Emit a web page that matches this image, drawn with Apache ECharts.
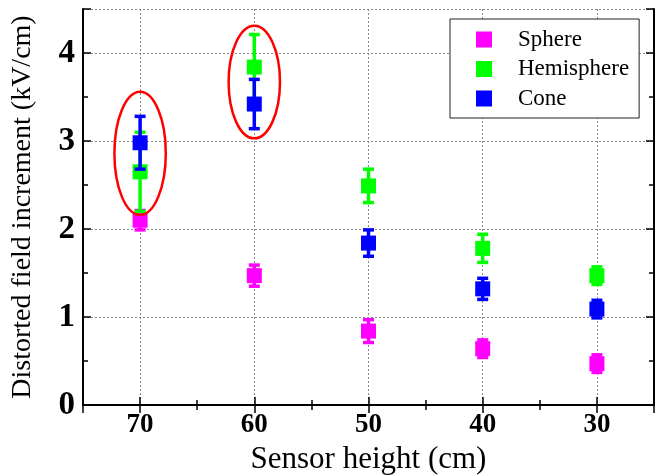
<!DOCTYPE html>
<html>
<head>
<meta charset="utf-8">
<script src="https://cdn.jsdelivr.net/npm/echarts@6/dist/echarts.min.js"></script>
<style>
  html, body { margin: 0; padding: 0; background: #fff; }
  #chart { width: 666px; height: 475px; }
</style>
</head>
<body>
<div id="chart"></div>
<script>
// ---- data ----
const heights = [70, 60, 50, 40, 30];
const sphereMean = [2.10, 1.47, 0.84, 0.64, 0.47];
const sphereErr  = [0.11, 0.12, 0.13, 0.10, 0.10];
const hemiMean   = [2.65, 3.84, 2.49, 1.78, 1.47];
const hemiErr    = [0.45, 0.37, 0.19, 0.16, 0.10];
const coneMean   = [2.98, 3.42, 1.84, 1.32, 1.09];
const coneErr    = [0.30, 0.28, 0.15, 0.12, 0.10];
const ellipseX    = [70, 60];
const ellipseLow  = [2.16, 3.03];
const ellipseHigh = [3.56, 4.31];
const seriesNames = ['Sphere', 'Hemisphere', 'Cone'];
const colors = ['#ff00ff', '#00ff00', '#0000ff'];

const FONT = '"Liberation Serif", "Times New Roman", serif';

function pts(mean) { return heights.map((h, i) => [h, mean[i]]); }
function errs(mean, err) { return heights.map((h, i) => [h, mean[i] - err[i], mean[i] + err[i]]); }

function errRender(color) {
  return function (params, api) {
    const x = api.value(0), lo = api.value(1), hi = api.value(2);
    const a = api.coord([x, lo]), b = api.coord([x, hi]);
    const hw = 5.5;
    const st = { stroke: color, lineWidth: 3.5 };
    return {
      type: 'group',
      children: [
        { type: 'line', shape: { x1: a[0], y1: a[1], x2: b[0], y2: b[1] }, style: st },
        { type: 'line', shape: { x1: a[0] - hw, y1: a[1], x2: a[0] + hw, y2: a[1] }, style: st },
        { type: 'line', shape: { x1: b[0] - hw, y1: b[1], x2: b[0] + hw, y2: b[1] }, style: st }
      ]
    };
  };
}

function ellipseRender(params, api) {
  const x = api.value(0), lo = api.value(1), hi = api.value(2);
  const a = api.coord([x, lo]), b = api.coord([x, hi]);
  const rx = Math.abs(api.size([10, 0])[0]) * 0.225;
  return {
    type: 'ellipse',
    shape: { cx: a[0], cy: (a[1] + b[1]) / 2, rx: rx, ry: Math.abs(a[1] - b[1]) / 2 },
    style: { stroke: '#ff0000', lineWidth: 2.5, fill: null }
  };
}

const means = [sphereMean, hemiMean, coneMean];
const errsArr = [sphereErr, hemiErr, coneErr];
const series = [];
for (let k = 0; k < 3; k++) {
  series.push({
    type: 'custom',
    name: seriesNames[k] + ' err',
    renderItem: errRender(colors[k]),
    data: errs(means[k], errsArr[k]),
    z: 2 + k * 2,
    silent: true
  });
  series.push({
    type: 'scatter',
    name: seriesNames[k],
    symbol: 'rect',
    symbolSize: 15,
    itemStyle: { color: colors[k], opacity: 1 },
    data: pts(means[k]),
    z: 3 + k * 2
  });
}
series.push({
  type: 'custom',
  name: 'highlight',
  renderItem: ellipseRender,
  data: ellipseX.map((x, i) => [x, ellipseLow[i], ellipseHigh[i]]),
  z: 10,
  silent: true
});

const axisLineStyle = { color: '#000', width: 2 };
const tickStyle = { color: '#000', width: 1.5 };
const gridLine = { show: true, lineStyle: { color: '#888', type: [2, 2], width: 1 } };

const option = {
  animation: false,
  backgroundColor: '#fff',
  grid: { left: 83, right: 12, top: 9, bottom: 70, containLabel: false, outerBoundsMode: 'none' },
  legend: {
    data: seriesNames.map(n => ({ name: n, icon: 'rect' })),
    orient: 'vertical',
    left: 450, top: 19,
    itemWidth: 16, itemHeight: 16, itemGap: 6.5,
    padding: [9, 10, 8, 26],
    borderColor: '#222', borderWidth: 1,
    backgroundColor: '#fff',
    textStyle: { fontFamily: FONT, fontSize: 23, color: '#000', padding: [0, 0, 0, 21] }
  },
  xAxis: [{
    type: 'value', min: 25, max: 75, inverse: true,
    name: 'Sensor height (cm)', nameLocation: 'middle', nameGap: 36,
    nameTextStyle: { fontFamily: FONT, fontSize: 31, color: '#000' },
    axisLine: { show: true, lineStyle: axisLineStyle },
    axisTick: { show: true, inside: true, length: 8, lineStyle: tickStyle },
    minorTick: { show: true, splitNumber: 2, length: 5, lineStyle: tickStyle },
    axisLabel: { fontFamily: FONT, fontSize: 27, fontWeight: 'bold', color: '#000', margin: 7,
      formatter: v => (v % 10 === 0 ? String(v) : '') },
    splitLine: gridLine
  }, {
    type: 'value', min: 25, max: 75, inverse: true, position: 'top',
    axisLine: { show: true, lineStyle: axisLineStyle },
    axisTick: { show: true, inside: true, length: 8, lineStyle: tickStyle },
    minorTick: { show: true, splitNumber: 2, length: 5, lineStyle: tickStyle },
    axisLabel: { show: false },
    splitLine: { show: false }
  }],
  yAxis: [{
    type: 'value', min: 0, max: 4.5, interval: 1,
    name: 'Distorted field increment (kV/cm)', nameLocation: 'middle', nameGap: 46,
    nameTextStyle: { fontFamily: FONT, fontSize: 28, color: '#000' },
    axisLine: { show: true, lineStyle: axisLineStyle },
    axisTick: { show: true, inside: true, length: 8, lineStyle: tickStyle },
    minorTick: { show: true, splitNumber: 2, length: 5, lineStyle: tickStyle },
    axisLabel: { fontFamily: FONT, fontSize: 33, fontWeight: 'bold', color: '#000', margin: 8,
      formatter: v => (Number.isInteger(v) ? String(v) : '') },
    splitLine: gridLine
  }, {
    type: 'value', min: 0, max: 4.5, interval: 1, position: 'right',
    axisLine: { show: true, lineStyle: axisLineStyle },
    axisTick: { show: true, inside: true, length: 8, lineStyle: tickStyle },
    minorTick: { show: true, splitNumber: 2, length: 5, lineStyle: tickStyle },
    axisLabel: { show: false },
    splitLine: { show: false }
  }],
  series: series
};

const chart = echarts.init(document.getElementById('chart'), null, { renderer: 'canvas' });
chart.setOption(option);
</script>
</body>
</html>
